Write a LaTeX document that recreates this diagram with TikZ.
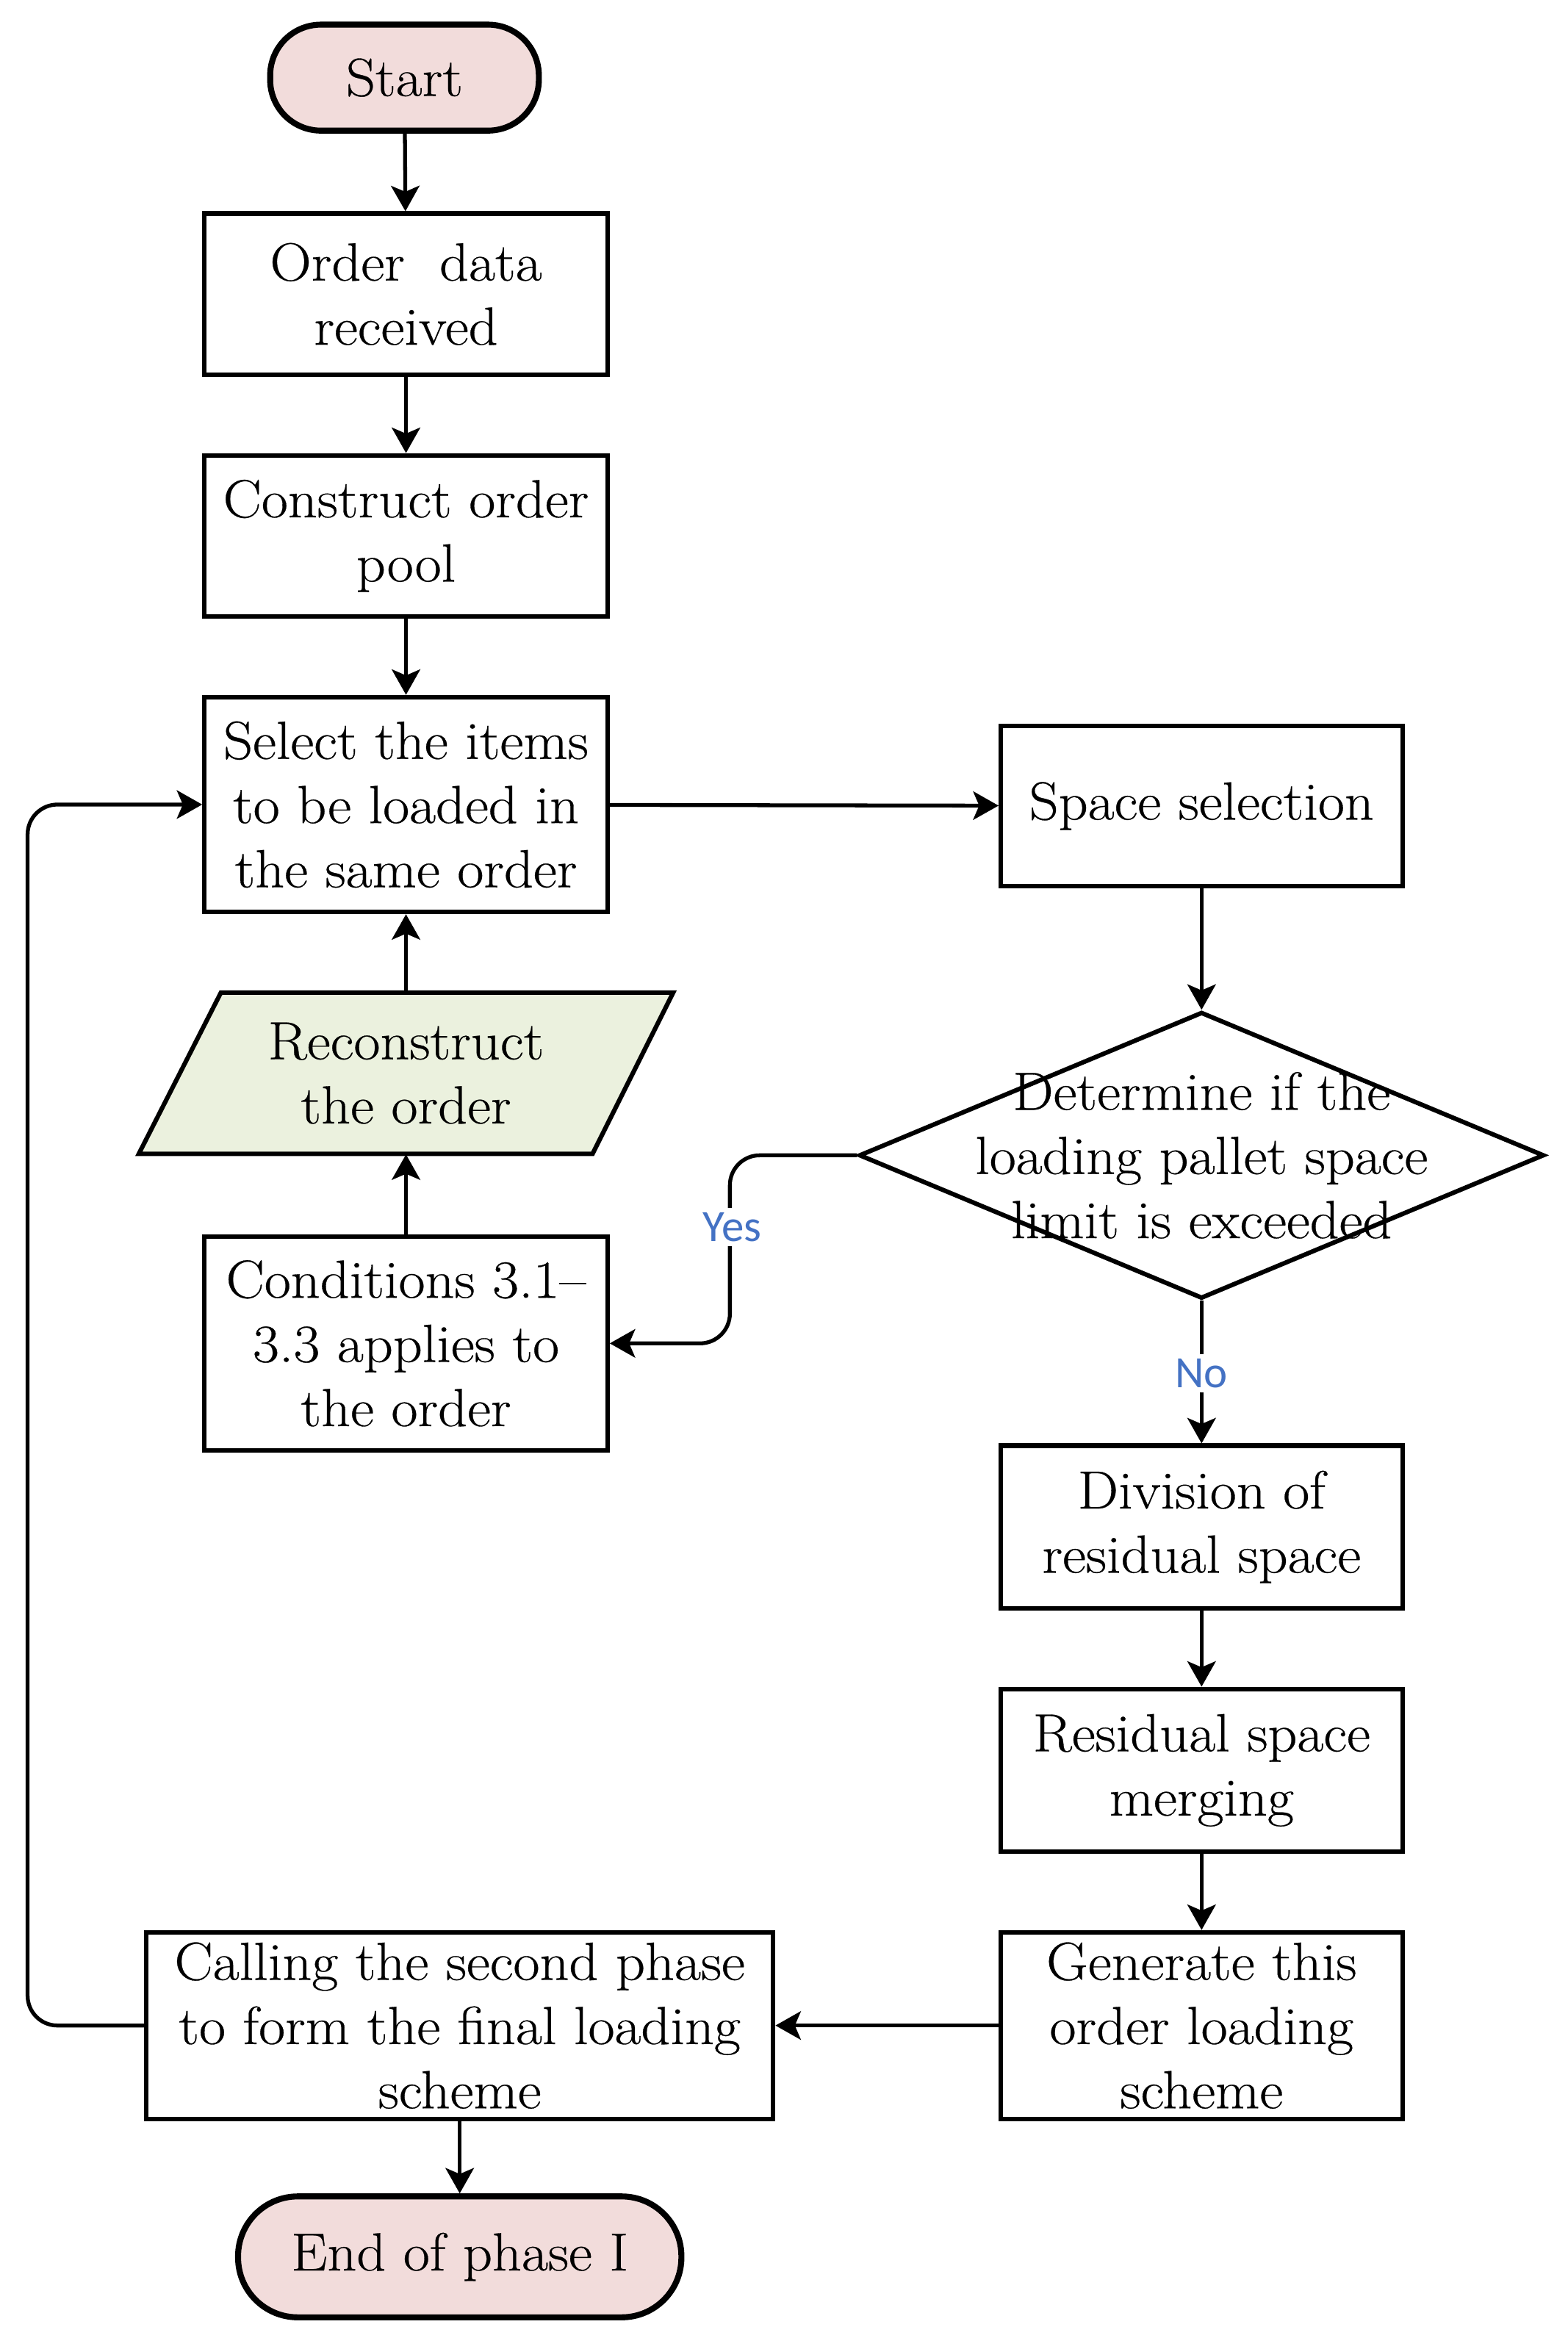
\documentclass[tikz,border=0pt]{standalone}
\usepackage{fontspec}
\setmainfont{Latin Modern Roman}[FakeStretch=1.07, FakeBold=0.4]
\newfontfamily\labfont{Carlito}
\usetikzlibrary{arrows.meta,shapes.geometric,calc}
\definecolor{pinkfill}{HTML}{F2DCDB}
\definecolor{greenfill}{HTML}{EBF1DE}
\definecolor{labblue}{HTML}{4472C4}
\begin{document}
\begin{tikzpicture}[x=0.5pt,y=-0.5pt,
  every node/.style={font=\fontsize{18pt}{21.5pt}\selectfont, align=center, inner sep=0pt},
  box/.style={draw, line width=1.5pt, rectangle, minimum width=135pt, minimum height=54pt},
  term/.style={draw, line width=2pt, rectangle, fill=pinkfill},
  para/.style={draw, line width=1.5pt, fill=greenfill, line join=miter},
  arr/.style={line width=1.3pt, -{Stealth[length=8.5pt,width=9.5pt,inset=2pt]}},
  lab/.style={font=\labfont\fontsize{15pt}{18pt}\selectfont, text=labblue, fill=white, inner sep=1.5pt}]
\useasboundingbox (0,0) rectangle (1050,1559);
% nodes
\node[term, minimum width=90pt, minimum height=35.5pt, rounded corners=17pt] (start) at (271,52) {Start};
\node[box] (order) at (272,197) {Order~ data\\received};
\node[box] (pool) at (272,359) {Construct order\\pool};
\node[box, minimum height=72pt] (sel) at (272,539) {Select the items\\to be loaded in\\the same order};
\coordinate (rc) at (272,719);
\draw[para] ($(rc)+(-124,-54)$) -- ($(rc)+(179,-54)$) -- ($(rc)+(125,54)$) -- ($(rc)+(-179,54)$) -- cycle;
\node[minimum width=151.75pt, minimum height=54pt] (recon) at (rc) {Reconstruct\\the order};
\node[box, minimum height=71.5pt] (cond) at (272,900) {Conditions 3.1--\\3.3 applies to\\the order};
\node[box, minimum width=134.5pt, minimum height=53.5pt] (space) at (805,540) {Space selection};
\node[diamond, draw, line width=1.5pt, minimum width=229.5pt, minimum height=96pt] (dec) at (805,774) {};
\node (dectext) at (805,774) {Determine if the\\loading pallet space\\limit is exceeded};
\node[box, minimum width=134.5pt, minimum height=54.5pt] (div) at (805,1023) {Division of\\residual space};
\node[box, minimum width=134.5pt, minimum height=54.5pt] (merge) at (805,1186) {Residual space\\merging};
\node[box, minimum width=134.5pt, minimum height=62.5pt] (gen) at (805,1357) {Generate this\\order loading\\scheme};
\node[box, minimum width=210pt, minimum height=62.5pt] (call) at (308,1357) {Calling the second phase\\to form the final loading\\scheme};
\node[term, minimum width=148.5pt, minimum height=40.5pt, rounded corners=20pt] (end) at (308,1512) {End of phase I};
% connectors
\draw[arr] (start) -- (order);
\draw[arr] (order) -- (pool);
\draw[arr] (pool) -- (sel);
\draw[arr] (sel) -- (space);
\draw[arr] (space) -- (dec);
\draw[arr] (cond) -- (recon);
\draw[arr] (recon) -- (sel);
\draw[arr, rounded corners=10pt] (dec.west) -- ++(-85,0) |- (cond.east);
\node[lab] (yes) at (490.5,822) {Yes};
\draw[arr] (dec) -- (div);
\node[lab] (no) at (805,920) {No};
\draw[arr] (div) -- (merge);
\draw[arr] (merge) -- (gen);
\draw[arr] (gen) -- (call);
\draw[arr] (call) -- (end);
\draw[arr, rounded corners=10pt] (call.west) -- ++(-78,0) |- (sel.west);
\end{tikzpicture}
\end{document}
